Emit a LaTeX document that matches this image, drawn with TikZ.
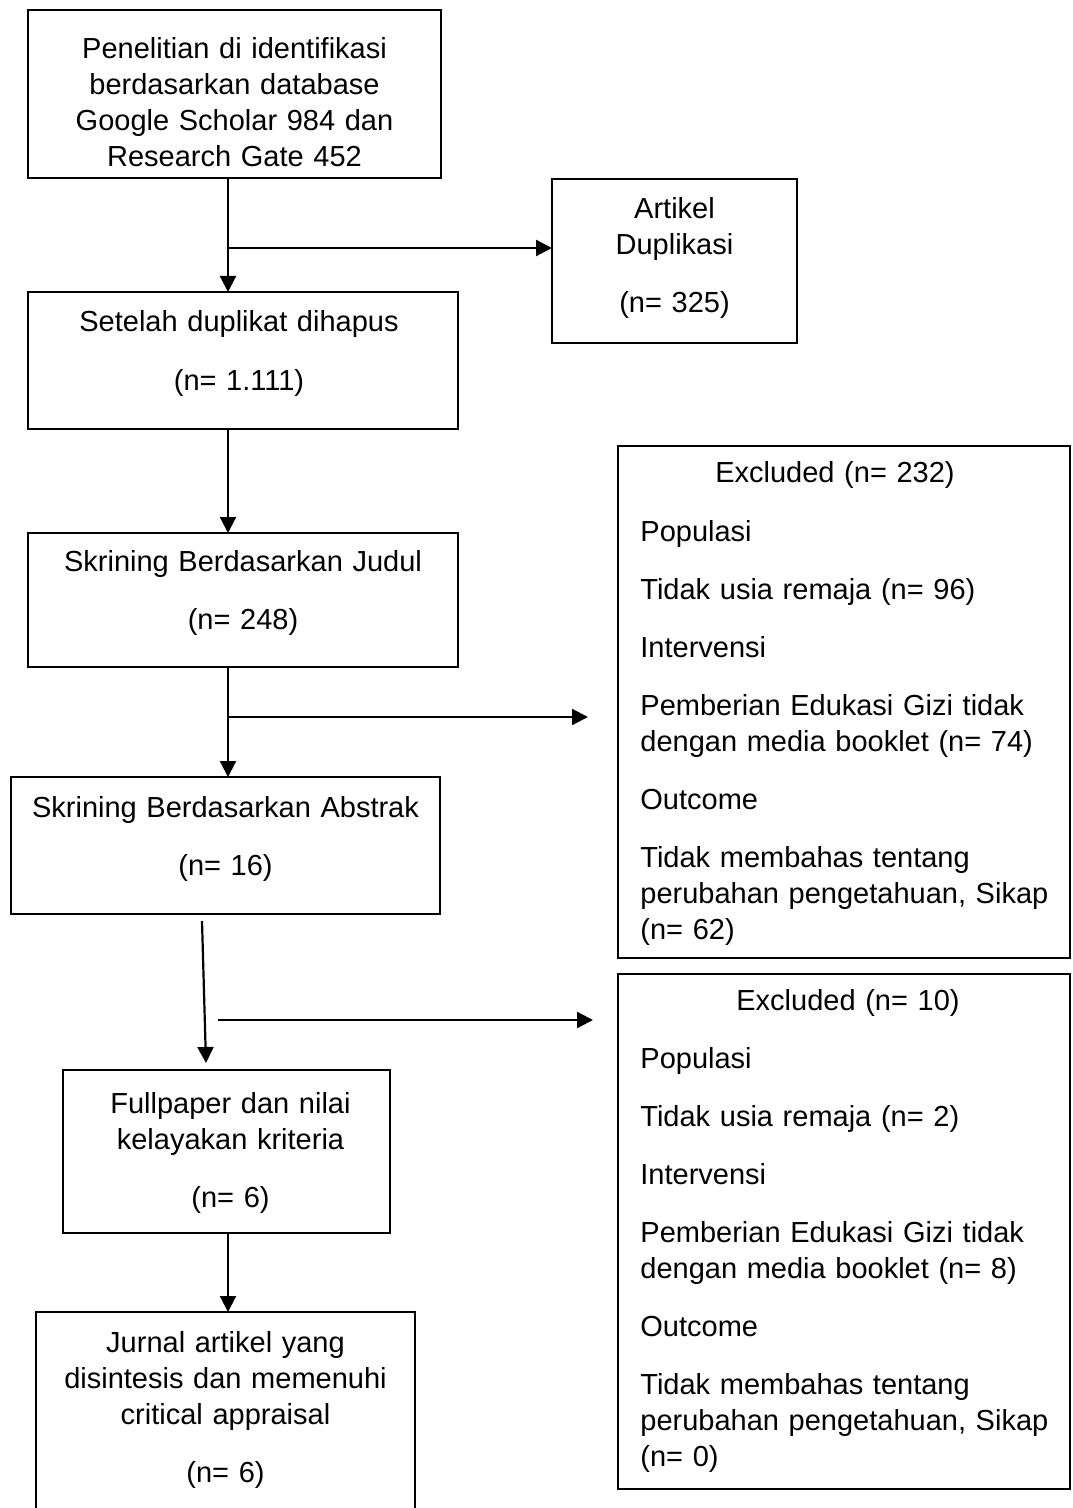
\documentclass[tikz,border=0pt]{standalone}
\usepackage{fontspec}
\setmainfont{Liberation Sans}
\usetikzlibrary{arrows.meta, calc}

\begin{document}
\begin{tikzpicture}[
    x=0.5pt, y=-0.5pt,
    box/.style={draw, line width=0.9pt, inner sep=0pt, outer sep=0pt,
                anchor=north west},
    txt/.style={font=\fontsize{14.5}{18}\selectfont, inner sep=0pt,
                text width=205pt, align=center, anchor=base},
    lst/.style={font=\fontsize{14.5}{18}\selectfont, inner sep=0pt,
                text width=212pt, align=left, anchor=base west},
    arr/.style={->, line width=1.1pt},
    >={Triangle[length=8pt, width=8pt]}
  ]
  \clip (0,0) rectangle (1072,1508);

  % left column
  \node[box, minimum width=206.5pt, minimum height=84pt] (cari) at (28,10) {};
  \node[box, minimum width=215pt, minimum height=68.5pt] (hapus) at (28,292) {};
  \node[box, minimum width=215pt, minimum height=67pt] (judul) at (28,533) {};
  \node[box, minimum width=214.5pt, minimum height=68.5pt] (abstrak) at (11,777) {};
  \node[box, minimum width=163.5pt, minimum height=81.5pt] (full) at (63,1070) {};
  \node[box, minimum width=189.5pt, minimum height=109pt] (jurnal) at (36,1312) {};

  % right column
  \node[box, minimum width=122.5pt, minimum height=82pt] (dup) at (552,179) {};
  \node[box, minimum width=226pt, minimum height=256pt] (excl1) at (618,446) {};
  \node[box, minimum width=226pt, minimum height=257.5pt] (excl2) at (618,974) {};

  % texts
  \node[txt] (cari-t) at ([yshift=-24.5pt]cari.north)
    {Penelitian di identifikasi\\berdasarkan database\\Google Scholar 984 dan\\Research Gate 452};
  \node[txt] (dup-t) at ([yshift=-20pt]dup.north) {Artikel\\Duplikasi\\[11pt](n= 325)};
  \node[txt] (hapus-t) at ([xshift=-2pt, yshift=-20pt]hapus.north)
    {Setelah duplikat dihapus\\[11pt](n= 1.111)};
  \node[txt] (judul-t) at ([yshift=-19pt]judul.north)
    {Skrining Berdasarkan Judul\\[11pt](n= 248)};
  \node[txt] (abstrak-t) at ([yshift=-20pt]abstrak.north)
    {Skrining Berdasarkan Abstrak\\[11pt](n= 16)};
  \node[txt] (full-t) at ([xshift=2pt, yshift=-21.5pt]full.north)
    {Fullpaper dan nilai\\kelayakan kriteria\\[11pt](n= 6)};
  \node[txt] (jurnal-t) at ([yshift=-20pt]jurnal.north)
    {Jurnal artikel yang\\disintesis dan memenuhi\\critical appraisal\\[11pt](n= 6)};

  % excluded lists
  \node[txt] (excl1-h) at ([xshift=-4.5pt, yshift=-18pt]excl1.north) {Excluded (n= 232)};
  \node[lst] (excl1-t) at ([xshift=11pt, yshift=-47.5pt]excl1.north west)
    {Populasi\\[11pt]Tidak usia remaja (n= 96)\\[11pt]Intervensi\\[11pt]Pemberian Edukasi Gizi tidak\\dengan media booklet (n= 74)\\[11pt]Outcome\\[11pt]Tidak membahas tentang\\perubahan pengetahuan, Sikap\\(n= 62)};
  \node[txt] (excl2-h) at ([xshift=2pt, yshift=-18pt]excl2.north) {Excluded (n= 10)};
  \node[lst] (excl2-t) at ([xshift=11pt, yshift=-47pt]excl2.north west)
    {Populasi\\[11pt]Tidak usia remaja (n= 2)\\[11pt]Intervensi\\[11pt]Pemberian Edukasi Gizi tidak\\dengan media booklet (n= 8)\\[11pt]Outcome\\[11pt]Tidak membahas tentang\\perubahan pengetahuan, Sikap\\(n= 0)};

  % arrows
  \coordinate (spine) at (228,0);
  \coordinate (cabang1) at (228,248);
  \coordinate (cabang2) at (228,717);
  \coordinate (cabang3) at (218,1020);

  \draw[arr] (cari.south -| spine) -- (hapus.north -| spine);
  \draw[arr] (cabang1) -- (cabang1 -| dup.west);
  \draw[arr] (hapus.south -| spine) -- (judul.north -| spine);
  \draw[arr] (judul.south -| spine) -- (abstrak.north -| spine);
  \draw[arr] (cabang2) -- ([xshift=-15pt]cabang2 -| excl1.west);
  \draw[arr] ([shift={(-23.5,7)}]abstrak.south) -- ([shift={(-20.5,-7)}]full.north);
  \draw[arr] (cabang3) -- ([xshift=-12.5pt]cabang3 -| excl2.west);
  \draw[arr] (full.south -| spine) -- (jurnal.north -| spine);
\end{tikzpicture}
\end{document}
